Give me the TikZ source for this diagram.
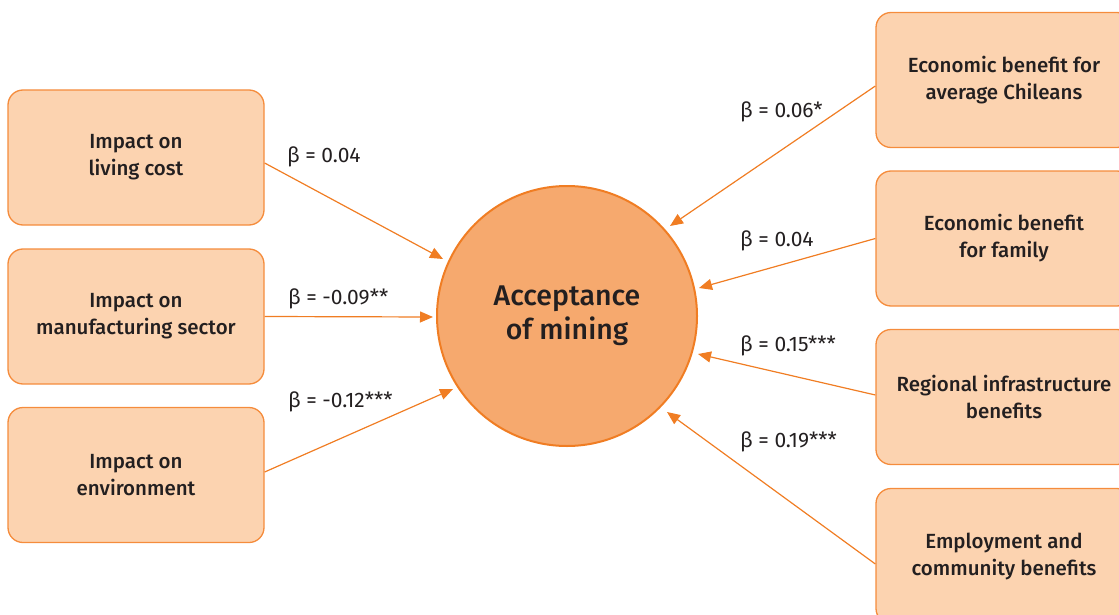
\documentclass[tikz,border=0pt]{standalone}
\usepackage{fontspec}
\setmainfont{Fira Sans}
\newfontfamily\medfont{Fira Sans}[UprightFont={* Medium}]
\usetikzlibrary{arrows.meta}
\definecolor{boxfill}{RGB}{252,211,176}
\definecolor{boxline}{RGB}{245,140,60}
\definecolor{circfill}{RGB}{246,169,110}
\definecolor{circline}{RGB}{240,125,35}
\definecolor{txt}{RGB}{35,31,32}
\tikzset{
  factor/.style={draw=boxline, fill=boxfill, line width=1.3pt, rounded corners=15pt,
    minimum width=256pt, minimum height=135pt, inner sep=0pt, align=center,
    text=txt, font=\medfont\fontsize{20.5}{27}\selectfont},
  outcome/.style={circle, draw=circline, fill=circfill, line width=2pt,
    minimum size=260pt, inner sep=0pt, align=center, text=txt,
    font=\medfont\fontsize{28.5}{34}\selectfont},
  arr/.style={draw=circline, line width=1.2pt, -{Triangle[length=13pt,width=11pt]}},
  beta/.style={anchor=west, inner sep=0pt, text=txt, font=\fontsize{21}{24}\selectfont}
}
\begin{document}
\begin{tikzpicture}[x=1pt,y=-1pt]
\useasboundingbox (0,0) rectangle (1119,615);
\begin{scope}
\clip (0,0) rectangle (1119,615);
% left factors
\node[factor] (l1) at (136,157.5) {Impact on\\living cost};
\node[factor] (l2) at (136,316.5) {Impact on\\manufacturing sector};
\node[factor] (l3) at (136,475) {Impact on\\environment};
% right factors
\node[factor] (r1) at (1004,80) {Economic benefit for\\average Chileans};
\node[factor] (r2) at (1004,238.5) {Economic benefit\\for family};
\node[factor] (r3) at (1004,397) {Regional infrastructure\\benefits};
\node[factor] (r4) at (1004,556) {Employment and\\community benefits};
\end{scope}
% outcome
\node[outcome] (c) at (567,316) {Acceptance\\of mining};
% arrow tips near the circle
\coordinate (t1) at (443,259);
\coordinate (t2) at (433,317);
\coordinate (t3) at (453,389);
\coordinate (t4) at (670,226);
\coordinate (t5) at (699,288);
\coordinate (t6) at (698,354);
\coordinate (t7) at (667,412);
\draw[arr] ([yshift=-5.5pt]l1.east) -- (t1);
\draw[arr] (l2.east) -- (t2);
\draw[arr] ([yshift=3pt]l3.east) -- (t3);
\draw[arr] ([yshift=-6pt]r1.west) -- (t4);
\draw[arr] (r2.west) -- (t5);
\draw[arr] ([yshift=2pt]r3.west) -- (t6);
\draw[arr] ([yshift=-8pt]r4.west) -- (t7);
% labels
\node[beta] (b1) at (287,157) {β = 0.04};
\node[beta] (b2) at (288,299) {β = -0.09**};
\node[beta] (b3) at (288,402) {β = -0.12***};
\node[beta] (b4) at (740,112) {β = 0.06*};
\node[beta] (b5) at (740,241) {β = 0.04};
\node[beta] (b6) at (740,346) {β = 0.15***};
\node[beta] (b7) at (740,442) {β = 0.19***};
\end{tikzpicture}
\end{document}
